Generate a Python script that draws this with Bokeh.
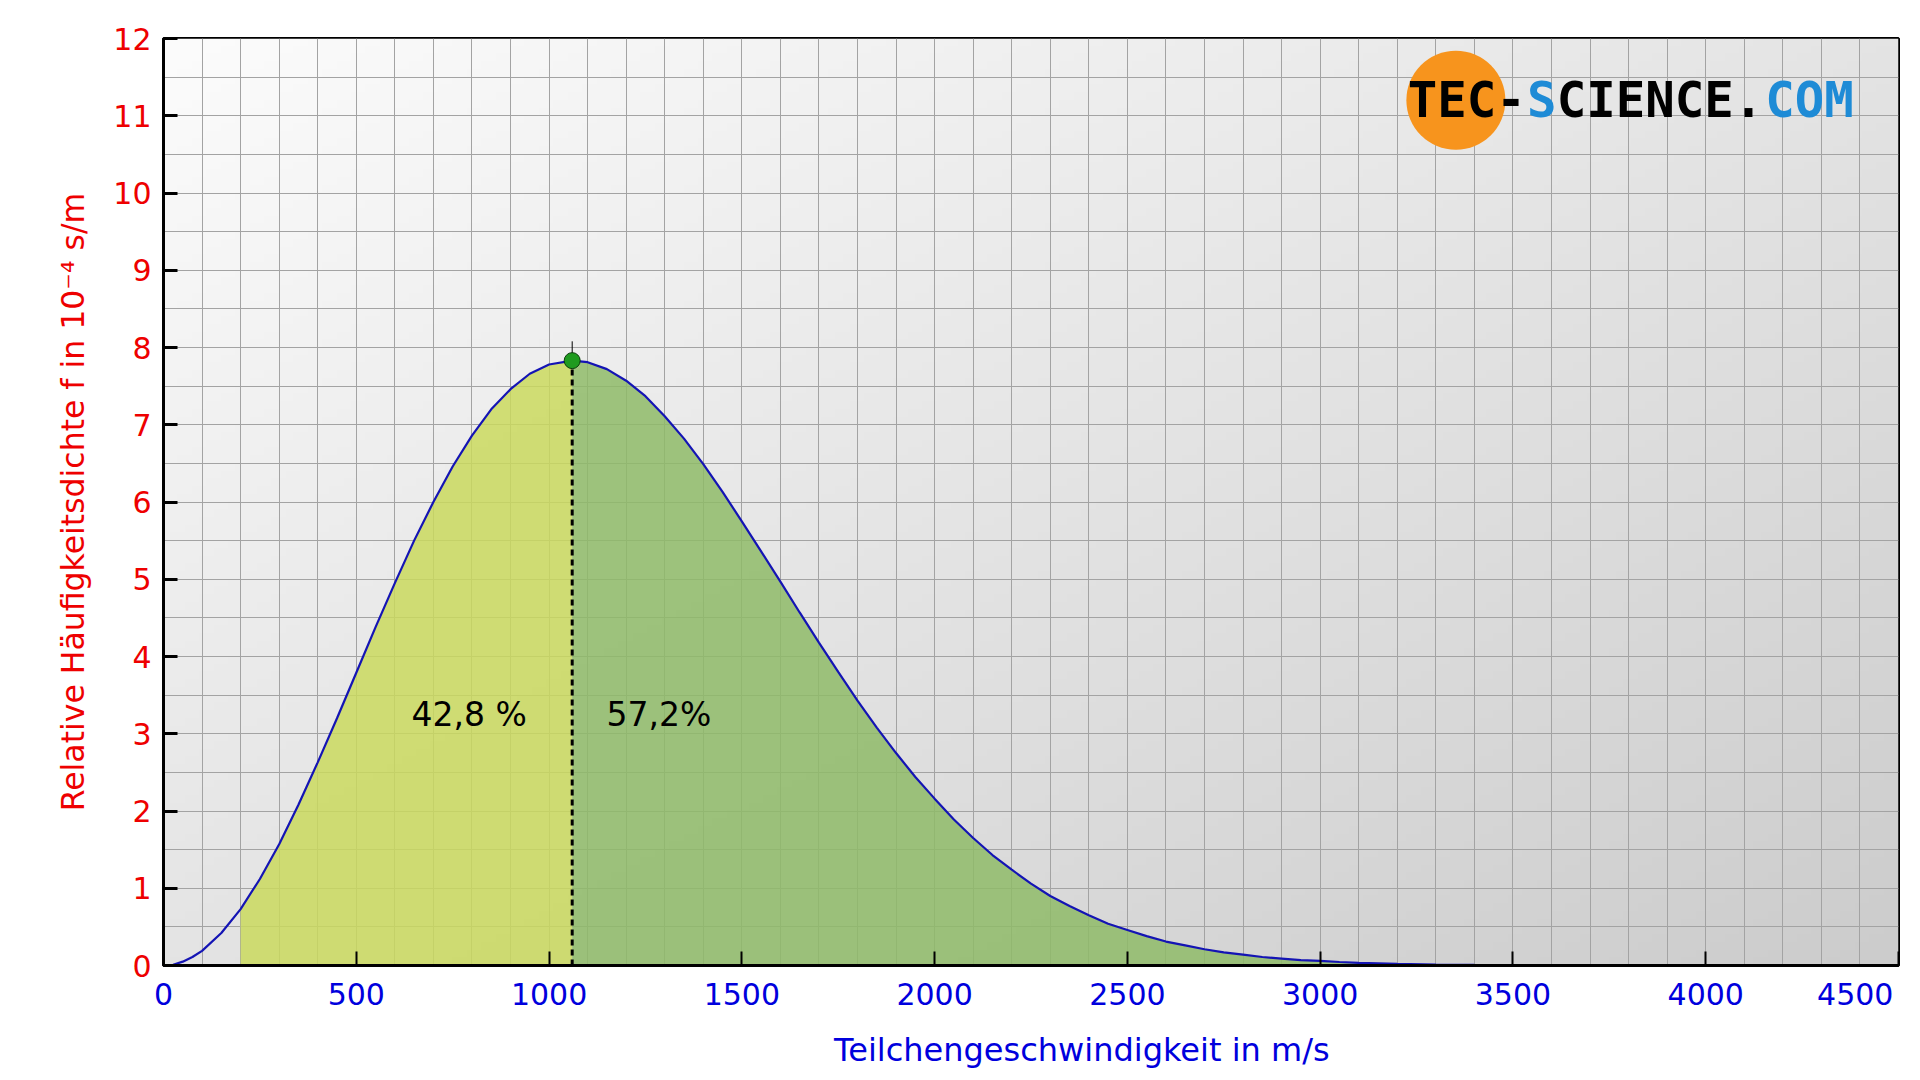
import numpy as np
from bokeh.plotting import figure
from bokeh.models import FixedTicker, Label, Range1d
from bokeh.embed import file_html
from bokeh.resources import INLINE
from bokeh.core.properties import value

# ---- data ----
speed = [0, 25, 50, 75, 100, 150, 200, 250, 300, 350, 400, 450, 500, 550, 600, 650, 700, 750,
         800, 850, 900, 950, 1000, 1060, 1100, 1150, 1200, 1250, 1300, 1350, 1400, 1450, 1500,
         1550, 1600, 1650, 1700, 1750, 1800, 1850, 1900, 1950, 2000, 2050, 2100, 2150, 2200,
         2250, 2300, 2350, 2400, 2450, 2500, 2550, 2600, 2650, 2700, 2750, 2800, 2850, 2900,
         2950, 3000, 3050, 3100, 3200, 3300, 3400, 3500, 3600]
density = [0.0, 0.01, 0.05, 0.11, 0.19, 0.42, 0.73, 1.12, 1.57, 2.08, 2.63, 3.20, 3.79, 4.38,
           4.95, 5.50, 6.00, 6.46, 6.86, 7.20, 7.46, 7.66, 7.78, 7.83, 7.81, 7.72, 7.57, 7.37,
           7.11, 6.82, 6.49, 6.13, 5.75, 5.36, 4.97, 4.57, 4.18, 3.80, 3.43, 3.08, 2.75, 2.44,
           2.16, 1.89, 1.65, 1.43, 1.24, 1.06, 0.90, 0.77, 0.65, 0.54, 0.46, 0.38, 0.31, 0.26,
           0.21, 0.17, 0.14, 0.11, 0.09, 0.07, 0.06, 0.045, 0.035, 0.02, 0.013, 0.007, 0.004, 0.0]
peak_speed = 1060
peak_density = 7.83
fill_start = 200
share_left = "42,8 %"
share_right = "57,2%"
x_ticks = [0, 500, 1000, 1500, 2000, 2500, 3000, 3500, 4000, 4500]
x_tick_labels = {4500: "4500\u00a0\u00a0"}
y_ticks = [0, 1, 2, 3, 4, 5, 6, 7, 8, 9, 10, 11, 12]
x_label = "\u00a0" * 10 + "Teilchengeschwindigkeit in m/s"
y_label = "Relative Häufigkeitsdichte f in 10⁻⁴ s/m"

FONT = "DejaVu Sans"
BLUE = "#0000dd"
RED = "#ee0000"

p = figure(width=1912, height=1072, x_range=Range1d(0, 4500), y_range=Range1d(0, 12),
           output_backend="svg", toolbar_location=None,
           min_border_left=163, min_border_right=14, min_border_top=38, min_border_bottom=107,
           background_fill_color="white", border_fill_color="white")

# gradient background of the plot area
nx, ny = 240, 120
u = np.linspace(0, 1, nx)[None, :]
v = np.linspace(0, 1, ny)[:, None]
t = (u + (1 - v)) / 2
g = np.clip(252 - 48 * t, 0, 255).astype(np.uint32)
img = (np.uint32(255) << 24) | (g << 16) | (g << 8) | g
p.image_rgba(image=[img], x=0, y=0, dw=4500, dh=12, level="image")

# grid
p.xgrid.ticker = FixedTicker(ticks=list(range(0, 4501, 100)))
p.ygrid.ticker = FixedTicker(ticks=[i * 0.5 for i in range(25)])
p.grid.grid_line_color = "#a3a3a3"
p.grid.grid_line_width = 1

# fills
sp = np.array(speed, dtype=float)
de = np.array(density, dtype=float)
lm = (sp >= fill_start) & (sp <= peak_speed)
rm = sp >= peak_speed
p.varea(x=sp[lm], y1=0, y2=de[lm], fill_color="#cad95e", fill_alpha=0.85)
p.varea(x=sp[rm], y1=0, y2=de[rm], fill_color="#8fbb68", fill_alpha=0.85)

# curve
p.line(speed, density, line_color="#1414b4", line_width=2.2)

# peak marker and dashed line
p.segment(x0=[peak_speed], y0=[0], x1=[peak_speed], y1=[peak_density],
          line_color="black", line_width=3, line_dash="6 4")
p.segment(x0=[peak_speed], y0=[peak_density], x1=[peak_speed], y1=[peak_density + 0.25],
          line_color="black", line_width=1)
p.scatter([peak_speed], [peak_density], size=16, fill_color="#1f9b1f", line_color="#0b3d0b")

# percentage texts
p.text(x=[793], y=[3.25], text=[share_left], text_font=value(FONT), text_font_size="33px",
       text_align="center", text_baseline="middle", text_color="black")
p.text(x=[1285], y=[3.25], text=[share_right], text_font=value(FONT), text_font_size="33px",
       text_align="center", text_baseline="middle", text_color="black")

# logo
p.scatter([3352], [11.2], size=99, fill_color="#f7941d", line_color=None)
logo_parts = [("TEC-", 0, "black"), ("S", 4, "#1e8bd6"), ("CIENCE.", 5, "black"), ("COM", 12, "#1e8bd6")]
adv = 29.8
for txt, idx, col in logo_parts:
    p.add_layout(Label(x=3227, y=11.2, x_offset=idx * adv, text=txt, text_color=col,
                       text_font="DejaVu Sans Mono", text_font_style="bold", text_font_size="49px",
                       text_baseline="middle", text_align="left"))

# axes
p.xaxis.ticker = FixedTicker(ticks=x_ticks)
p.xaxis.major_label_overrides = x_tick_labels
p.yaxis.ticker = FixedTicker(ticks=y_ticks)
for ax in (p.xaxis, p.yaxis):
    ax.axis_line_color = "black"
    ax.axis_line_width = 3
    ax.major_tick_line_color = "black"
    ax.major_tick_out = 0
    ax.major_tick_in = 14
    ax.minor_tick_line_color = None
    ax.major_label_text_font = FONT
    ax.major_label_text_font_size = "30px"
    ax.axis_label_text_font = FONT
    ax.axis_label_text_font_style = "normal"
p.xaxis.axis_label_text_font_size = "32px"
p.yaxis.axis_label_text_font_size = "31.5px"
p.xaxis.major_tick_line_width = 2
p.yaxis.major_tick_line_width = 3
p.xaxis.major_label_text_color = BLUE
p.xaxis.axis_label_text_color = BLUE
p.yaxis.major_label_text_color = RED
p.yaxis.axis_label_text_color = RED
p.xaxis.axis_label = x_label
p.yaxis.axis_label = y_label
p.xaxis.major_label_standoff = 11
p.xaxis.axis_label_standoff = 16
p.yaxis.major_label_standoff = 12
p.yaxis.axis_label_standoff = 19

p.outline_line_color = "black"
p.outline_line_width = 3
p.outline_line_alpha = 1

open("out.html", "w").write(file_html(p, INLINE))
